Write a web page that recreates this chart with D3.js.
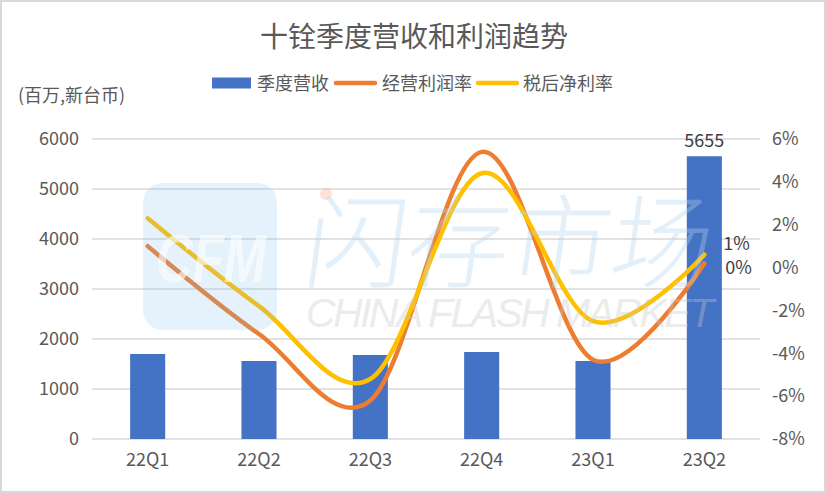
<!DOCTYPE html>
<html>
<head>
<meta charset="utf-8">
<script src="https://cdn.jsdelivr.net/npm/d3@7"></script>
<style>
html,body{margin:0;padding:0;background:#fff;}
svg{display:block;font-family:"Noto Sans CJK SC","Noto Sans",sans-serif;}
</style>
</head>
<body>
<svg id="chart" width="826" height="493"></svg>
<script>
const categories = ["22Q1","22Q2","22Q3","22Q4","23Q1","23Q2"];
const revenue = [1700, 1560, 1680, 1740, 1560, 5655];
const opMargin = [1.0, -3.1, -6.2, 5.4, -4.3, 0.2];
const netMargin = [2.3, -1.8, -5.2, 4.4, -2.5, 0.6];
const leftTicks = [0, 1000, 2000, 3000, 4000, 5000, 6000];
const rightTicks = [-8, -6, -4, -2, 0, 2, 4, 6];
const seriesNames = ["季度营收", "经营利润率", "税后净利率"];
const title = "十铨季度营收和利润趋势";
const unitLabel = "(百万,新台币)";

const W = 826, H = 493;
const m = {left: 92, right: 760, top: 139, bottom: 439};
const txt = "#595959";
const colors = {bar: "#4472C4", op: "#ED7D31", net: "#FFC000"};
const FONT = "'Noto Sans CJK SC','Noto Sans',sans-serif";

const svg = d3.select("#chart");

// border
svg.append("rect").attr("x",1).attr("y",1).attr("width",W-2).attr("height",H-2)
  .attr("fill","#fff").attr("stroke","#d9d9d9").attr("stroke-width",2);

const x = d3.scaleBand().domain(categories).range([m.left, m.right]).paddingInner(0.685).paddingOuter(0.3425);
const xc = d => x(d) + x.bandwidth()/2;
const yL = d3.scaleLinear().domain([0, 6000]).range([m.bottom, m.top]);
const yR = d3.scaleLinear().domain([-8, 6]).range([m.bottom, m.top]);

// gridlines
svg.append("g").selectAll("line").data(leftTicks).join("line")
  .attr("x1", m.left).attr("x2", m.right)
  .attr("y1", d => yL(d)).attr("y2", d => yL(d))
  .attr("stroke", "#d9d9d9").attr("stroke-width", 1.5);

// left axis
const axL = svg.append("g").attr("transform", `translate(${m.left},0)`)
  .call(d3.axisLeft(yL).tickValues(leftTicks).tickSize(0).tickPadding(13).tickFormat(d3.format("d")));
axL.select(".domain").remove();
axL.selectAll("text").attr("fill", txt).style("font-size","18px").style("font-family",FONT);

// right axis
const axR = svg.append("g").attr("transform", `translate(${m.right},0)`)
  .call(d3.axisRight(yR).tickValues(rightTicks).tickSize(0).tickPadding(12).tickFormat(d => d + "%"));
axR.select(".domain").remove();
axR.selectAll("text").attr("fill", txt).style("font-size","18px").style("font-family",FONT);

// bottom axis
const axB = svg.append("g").attr("transform", `translate(0,${m.bottom})`)
  .call(d3.axisBottom(x).tickSize(0).tickPadding(14));
axB.select(".domain").remove();
axB.selectAll("text").attr("fill", txt).style("font-size","18px").style("font-family",FONT);

// bars
svg.append("g").selectAll("rect").data(revenue).join("rect")
  .attr("x", (d,i) => x(categories[i]))
  .attr("width", x.bandwidth())
  .attr("y", d => yL(d))
  .attr("height", d => yL(0) - yL(d))
  .attr("fill", colors.bar);

// lines
const line = d3.line().x((d,i) => xc(categories[i])).y(d => yR(d)).curve(d3.curveCardinal.tension(0));
svg.append("path").datum(opMargin).attr("d", line).attr("fill","none")
  .attr("stroke", colors.op).attr("stroke-width", 4.5).attr("stroke-linecap","round");
svg.append("path").datum(netMargin).attr("d", line).attr("fill","none")
  .attr("stroke", colors.net).attr("stroke-width", 4.5).attr("stroke-linecap","round");

// data labels
const last = categories.length - 1;
svg.append("text").attr("x", xc(categories[last])).attr("y", yL(revenue[last]) - 9)
  .attr("text-anchor","middle").attr("fill","#404040").style("font-size","18px")
  .text(d3.format("d")(revenue[last]));
svg.append("text").attr("x", xc(categories[last]) + 19).attr("y", yR(netMargin[last]) - 5)
  .attr("fill","#404040").style("font-size","18px")
  .text(Math.round(netMargin[last]) + "%");
svg.append("text").attr("x", xc(categories[last]) + 21).attr("y", yR(opMargin[last]) + 11)
  .attr("fill","#404040").style("font-size","18px")
  .text(Math.round(opMargin[last]) + "%");

// watermark (semi-transparent overlay)
const wm = svg.append("g").attr("pointer-events","none");
wm.append("rect").attr("x",143).attr("y",183).attr("width",134).attr("height",147).attr("rx",20)
  .attr("fill","#7fbdec").attr("opacity",0.2);
wm.append("text").attr("x",156).attr("y",282).attr("textLength",110).attr("lengthAdjust","spacingAndGlyphs")
  .attr("fill","#ffffff").attr("opacity",0.6).style("font-size","68px").style("font-weight","bold")
  .style("font-family","'Liberation Sans',sans-serif").style("font-style","italic").text("CFM");
wm.append("circle").attr("cx",326).attr("cy",194).attr("r",6).attr("fill","#f7b08a").attr("opacity",0.35);
wm.append("text").attr("x",302).attr("y",280)
  .attr("fill","#b5d5ef").attr("opacity",0.35).style("font-size","102px")
  .attr("transform","skewX(-8) translate(38,0)")
  .style("font-family","'Noto Sans CJK SC',sans-serif").style("font-weight","300").text("闪存市场");
wm.append("text").attr("x",306).attr("y",327).attr("textLength",408)
  .attr("fill","#c8c8c8").attr("opacity",0.35).style("font-size","41px").style("font-style","italic")
  .style("font-family","'Liberation Sans',sans-serif").text("CHINA FLASH MARKET");

// title
svg.append("text").attr("x", 414).attr("y", 47).attr("text-anchor","middle")
  .attr("fill", txt).style("font-size","28px").text(title);

// unit label
svg.append("text").attr("x", 18).attr("y", 102).attr("fill", txt).style("font-size","18px").text(unitLabel);

// legend
const lg = svg.append("g");
const legendItems = [
  {name: seriesNames[0], type: "bar", color: colors.bar, x: 212, tx: 257},
  {name: seriesNames[1], type: "line", color: colors.op, x: 334, tx: 382},
  {name: seriesNames[2], type: "line", color: colors.net, x: 476, tx: 523}
];
legendItems.forEach(it => {
  if (it.type === "bar") {
    lg.append("rect").attr("x", it.x).attr("y", 77.5).attr("width", 39).attr("height", 11).attr("fill", it.color);
  } else {
    lg.append("line").attr("x1", it.x+2).attr("x2", it.x+41).attr("y1", 83).attr("y2", 83)
      .attr("stroke", it.color).attr("stroke-width", 4.5).attr("stroke-linecap","round");
  }
  lg.append("text").attr("x", it.tx).attr("y", 89.5).attr("fill", txt).style("font-size","18px").text(it.name);
});
</script>
</body>
</html>
